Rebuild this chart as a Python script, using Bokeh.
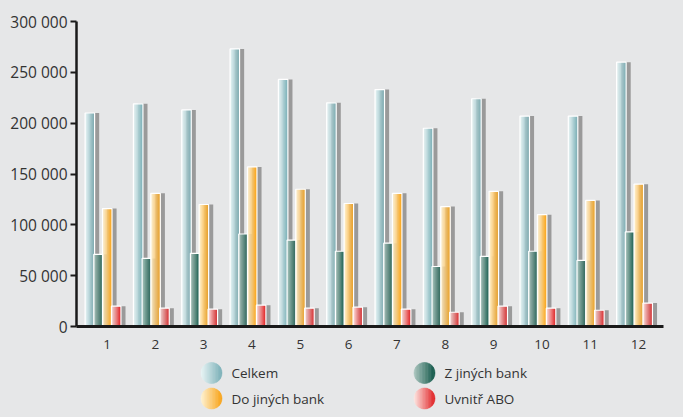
import numpy as np
from bokeh.plotting import figure
from bokeh.models import Range1d, FixedTicker, ColumnDataSource
from bokeh.layouts import column
from bokeh.transform import dodge
from bokeh.embed import file_html
from bokeh.resources import INLINE
from bokeh.core.properties import value

# ---- data ----
months = list(range(1, 13))
month_labels = [str(m) for m in months]
celkem = [210000, 219000, 213000, 273000, 243000, 220000, 233000, 195000, 224000, 207000, 207000, 260000]
z_jinych = [71000, 67000, 72000, 91000, 85000, 74000, 82000, 59000, 69000, 74000, 65000, 93000]
do_jinych = [116000, 131000, 120000, 157000, 135000, 121000, 131000, 118000, 133000, 110000, 124000, 140000]
uvnitr = [20000, 18000, 17000, 21000, 18000, 19000, 17000, 14000, 20000, 18000, 16000, 23000]
series_names = ["Celkem", "Z jiných bank", "Do jiných bank", "Uvnitř ABO"]
y_ticks = [0, 50000, 100000, 150000, 200000, 250000, 300000]
y_tick_labels = ["0", "50 000", "100 000", "150 000", "200 000", "250 000", "300 000"]

# ---- styles ----
BG = "#e6e7e8"
FONT = "Open Sans"
grad = [("#e6f3f4", "#7cb1b8"), ("#a7c3bc", "#155a4b"), ("#fff1cf", "#f8a41a"), ("#fde2de", "#e12629")]
offsets = [-0.355, -0.175, 0.005, 0.19]
bar_w = 0.197
shadow_dx = 0.095
N = 10

def hex2rgb(h):
    h = h.lstrip("#")
    return np.array([int(h[i:i + 2], 16) for i in (0, 2, 4)], dtype=float)

def mix(c1, c2, t):
    a, b = hex2rgb(c1), hex2rgb(c2)
    c = a + (b - a) * t
    return "#%02x%02x%02x" % tuple(int(round(v)) for v in c)

src = ColumnDataSource(dict(m=months, c0=celkem, c1=z_jinych, c2=do_jinych, c3=uvnitr))

p = figure(width=683, height=358, x_range=Range1d(0.369, 12.517), y_range=Range1d(0, 300000),
           output_backend="svg", toolbar_location=None,
           min_border_left=76, min_border_right=20, min_border_top=21, min_border_bottom=32)
p.background_fill_color = BG
p.border_fill_color = BG
p.outline_line_color = None
p.grid.visible = False

for i in range(4):
    col = "c%d" % i
    o = offsets[i]
    p.vbar(x=dodge("m", o + shadow_dx, range=p.x_range), top=col, width=bar_w, source=src,
           fill_color="#9a9a9a", line_color=None)
    sw = bar_w / N
    for k in range(N):
        t = k / (N - 1)
        xo = o - bar_w / 2 + (k + 0.5) * sw
        p.vbar(x=dodge("m", xo, range=p.x_range), top=col, width=sw * 1.15, source=src,
               fill_color=mix(grad[i][0], grad[i][1], t), line_color=None)
    p.vbar(x=dodge("m", o, range=p.x_range), top=col, width=bar_w, source=src,
           fill_alpha=0, line_color="white", line_width=1.2)

p.xaxis.ticker = FixedTicker(ticks=months)
p.xaxis.major_label_overrides = {m: l for m, l in zip(months, month_labels)}
p.xaxis.axis_line_width = 3
p.xaxis.axis_line_color = "#1a1a1a"
p.xaxis.major_tick_out = 0
p.xaxis.major_tick_in = 0
p.xaxis.minor_tick_line_color = None
p.xaxis.major_label_standoff = 13

p.yaxis.ticker = FixedTicker(ticks=y_ticks)
p.yaxis.major_label_overrides = {t: l for t, l in zip(y_ticks, y_tick_labels)}
p.yaxis.axis_line_width = 2.5
p.yaxis.axis_line_color = "#1a1a1a"
p.yaxis.major_tick_out = 6
p.yaxis.major_tick_in = 0
p.yaxis.major_tick_line_width = 2
p.yaxis.major_tick_line_color = "#1a1a1a"
p.yaxis.minor_tick_line_color = None
p.yaxis.major_label_standoff = 3

for ax in (p.xaxis, p.yaxis):
    ax.major_label_text_font = FONT
    ax.major_label_text_color = "#333333"
p.xaxis.major_label_text_font_size = "13.5px"
p.yaxis.major_label_text_font_size = "15.5px"

# legend figure: its frame is aligned with the main frame (x 76..663 on the page)
lg = figure(width=683, height=59, x_range=Range1d(76, 663), y_range=Range1d(417, 358),
            output_backend="svg", toolbar_location=None, min_border=0)
lg.axis.visible = False
lg.grid.visible = False
lg.outline_line_color = None
lg.background_fill_color = BG
lg.border_fill_color = BG

centers = [(211, 372.5), (424, 372.5), (211, 398), (424, 398)]
r = 10.5
M = 14
for i, (cx, cy) in enumerate(centers):
    xs, ys, cs = [], [], []
    edges = np.linspace(-r, r, M + 1)
    for k in range(M):
        a, b = edges[k], edges[k + 1]
        xx = np.linspace(a, b, 6)
        h = np.sqrt(np.clip(r * r - xx * xx, 0, None))
        px = np.concatenate([xx, xx[::-1]]) + cx
        py = np.concatenate([cy - h, (cy + h)[::-1]])
        xs.append(list(px)); ys.append(list(py))
        cs.append(mix(grad[i][0], grad[i][1], k / (M - 1)))
    lg.patches(xs, ys, fill_color=cs, line_color=cs, line_width=0.5)

lg.text(x=[cx + 20 for cx, cy in centers], y=[cy for cx, cy in centers], text=series_names,
        text_font=value(FONT), text_font_size="13.5px", text_baseline="middle",
        text_color="#333333")

layout = column(p, lg, spacing=0)

html = file_html(layout, INLINE)
html = html.replace("<body>", '<body style="background-color:%s;">' % BG, 1)
html = html.replace("<html lang=\"en\">", '<html lang="en" style="background-color:%s;">' % BG, 1)
open("out.html", "w").write(html)
